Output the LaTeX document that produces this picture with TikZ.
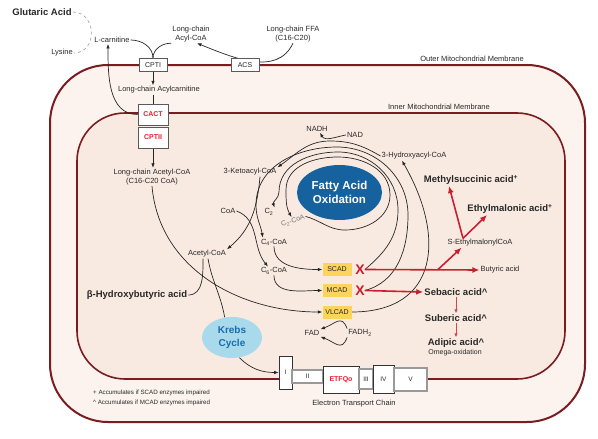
\documentclass[tikz,border=0pt]{standalone}
\usepackage{fontspec}
\setmainfont{Liberation Sans}
\usepackage{xcolor}
\usetikzlibrary{arrows.meta}
\usetikzlibrary{shapes.geometric}

\definecolor{membred}{RGB}{122,28,32}
\definecolor{outerfill}{RGB}{252,243,238}
\definecolor{innerfill}{RGB}{249,234,225}
\definecolor{txt}{RGB}{40,40,40}
\definecolor{rxred}{RGB}{200,32,46}
\definecolor{rxpale}{RGB}{214,70,80}
\definecolor{boxred}{RGB}{232,30,45}
\definecolor{enzyellow}{RGB}{251,212,92}
\definecolor{faoblue}{RGB}{22,98,158}
\definecolor{krebsfill}{RGB}{168,218,236}
\definecolor{krebstext}{RGB}{26,108,170}

\pgfdeclarelayer{bg}
\pgfdeclarelayer{mid}
\pgfsetlayers{bg,mid,main}

\begin{document}
\begin{tikzpicture}[x=1pt,y=1pt,yscale=-1]
\tikzset{>={Latex[width=3.5pt,length=4.5pt]}}
\tikzstyle{lbl}=[text=txt,inner sep=1pt,align=center,font=\fontsize{7.5}{9}\selectfont]
\tikzstyle{big}=[text=txt,inner sep=1pt,font=\fontsize{9.5}{11}\selectfont\bfseries]
\tikzstyle{note}=[text=txt,inner sep=1pt,anchor=west,font=\fontsize{6.2}{7}\selectfont]
\tikzstyle{mbox}=[draw=black!65,fill=white,line width=0.6pt,inner sep=0pt,minimum width=28pt,minimum height=13pt,text=txt,font=\fontsize{7}{8}\selectfont]
\tikzstyle{redbox}=[mbox,minimum width=30pt,minimum height=21pt,text=boxred,font=\fontsize{7}{8}\selectfont\bfseries]
\tikzstyle{enz}=[fill=enzyellow,inner sep=0pt,minimum width=29pt,minimum height=13pt,text=txt,font=\fontsize{7}{8}\selectfont]
\tikzstyle{xmark}=[text=rxred,inner sep=0pt,font=\fontsize{14}{14}\selectfont\bfseries]
\tikzstyle{con}=[draw=black!85,line width=0.7pt]
\tikzstyle{redline}=[draw=rxred,line width=1.6pt,-{Latex[width=6pt,length=7pt]}]
\tikzstyle{redthin}=[draw=rxpale,line width=0.9pt,-{Latex[width=3.5pt,length=4pt]}]
\tikzstyle{etcbox}=[draw=black!80,fill=white,line width=0.6pt,inner sep=0pt,text=txt,font=\fontsize{6.5}{7}\selectfont]
\tikzstyle{etcgray}=[etcbox,draw=black!40,line width=1.1pt]

\useasboundingbox (0,0) rectangle (598,439);

\begin{pgfonlayer}{bg}
\draw[fill=outerfill,draw=membred,line width=2pt,rounded corners=58pt] (50,65) rectangle (585,422);
\draw[fill=innerfill,draw=membred,line width=1.6pt,rounded corners=48pt] (77,113) rectangle (565,379);
\end{pgfonlayer}

\node[big](glut) at (42,12){Glutaric Acid};
\node[lbl](lys) at (62,53){Lysine};
\node[lbl](lcarn) at (112,40){L-carnitine};
\node[lbl](acyl) at (191,34){Long-chain\\Acyl-CoA};
\node[lbl](ffa) at (293,34){Long-chain FFA\\(C16-C20)};
\node[mbox](cpt1) at (153,65){CPTI};
\node[mbox](acs) at (245,65){ACS};
\node[lbl](acylcarn) at (159,90){Long-chain Acylcarnitine};
\node[redbox](cact) at (153,114.5){CACT};
\node[redbox](cpt2) at (153,137.5){CPTII};
\node[lbl](lcacetyl) at (152,177){Long-chain Acetyl-CoA\\(C16-C20 CoA)};
\node[lbl](outerlbl) at (472,59){Outer Mitochondrial Membrane};
\node[lbl](innerlbl) at (439,107){Inner Mitochondrial Membrane};

\node[lbl](nadh) at (317,129){NADH};
\node[lbl](nad) at (355,135){NAD};
\node[lbl](hydroxy) at (414,156){3-Hydroxyacyl-CoA};
\node[lbl](keto) at (250,172){3-Ketoacyl-CoA};
\node[lbl](coa) at (228,211){CoA};
\node[lbl](acetyl) at (207,254){Acetyl-CoA};
\node[lbl](c2) at (269,212){C\textsubscript{2}};
\node[lbl,text=black!55,rotate=20,font=\fontsize{7}{8}\selectfont](c2coa) at (293,221){C\textsubscript{2}-CoA};
\node[lbl](c4) at (274,242){C\textsubscript{4}-CoA};
\node[lbl](c6) at (274,271){C\textsubscript{6}-CoA};
\node[enz](scad) at (337,269.5){SCAD};
\node[enz](mcad) at (337,290.5){MCAD};
\node[enz](vlcad) at (337,312){VLCAD};
\node[xmark](xs) at (360,269.5){X};
\node[xmark](xm) at (360,290.5){X};
\node[ellipse,fill=faoblue,minimum width=85pt,minimum height=55pt,inner sep=0pt,align=center,text=white,font=\fontsize{11.5}{14}\selectfont\bfseries](fao) at (339.5,192.5){Fatty Acid\\Oxidation};
\node[ellipse,fill=krebsfill,minimum width=60pt,minimum height=41pt,inner sep=0pt,align=center,text=krebstext,font=\fontsize{10}{12.5}\selectfont\bfseries](krebs) at (232,337.5){Krebs\\Cycle};
\node[big](bhb) at (137,295){β-Hydroxybutyric acid};
\node[lbl](fad) at (312,333){FAD};
\node[lbl](fadh) at (360,333){FADH\textsubscript{2}};
\node[lbl](seth) at (480,243){S-EthylmalonylCoA};
\node[lbl](butyric) at (500,270){Butyric acid};
\node[big](methyl) at (471,180){Methylsuccinic acid\textsuperscript{+}};
\node[big](ethyl) at (510,209){Ethylmalonic acid\textsuperscript{+}};
\node[big](sebacic) at (456,292){Sebacic acid\textasciicircum};
\node[big](suberic) at (456,318){Suberic acid\textasciicircum};
\node[big](adipic) at (456,343){Adipic acid\textasciicircum};
\node[lbl,font=\fontsize{7}{8}\selectfont](omega) at (455,353){Omega-oxidation};

\node[etcbox,minimum width=13pt,minimum height=33pt](etc1) at (285.5,372.5){I};
\node[etcgray,minimum width=31pt,minimum height=13pt](etc2) at (307.5,376.5){II};
\node[etcbox,minimum width=36pt,minimum height=27pt,text=boxred,font=\fontsize{7}{8}\selectfont\bfseries](etfqo) at (341,379.5){ETFQo};
\node[etcgray,minimum width=14pt,minimum height=20pt](etc3) at (366,379){III};
\node[etcbox,minimum width=21pt,minimum height=28pt](etc4) at (383.5,379){IV};
\node[etcgray,minimum width=33pt,minimum height=23pt](etc5) at (410.5,379.5){V};
\node[lbl](etclbl) at (354,404){Electron Transport Chain};

\node[note](leg1) at (92,393){+ Accumulates if SCAD enzymes impaired};
\node[note](leg2) at (92,403){\textasciicircum\ Accumulates if MCAD enzymes impaired};

\begin{pgfonlayer}{mid}
\draw[gray!70,dashed,line width=0.7pt] (glut.east) to [out=0,in=0,looseness=1.5] (lys.east);
\draw[con] (lcarn.east) to [out=0,in=-90] (cpt1.north);
\draw[con] (acyl.south west) to [out=180,in=-90] (cpt1.north);
\draw[con,->] (ffa.south) to [out=115,in=22] ([xshift=6pt]acyl.south);
\draw[con,->] (cpt1.south) -- (cpt1.south |- acylcarn.north);
\draw[con] (cpt1.south |- acylcarn.south) -- (cact.north);
\draw[con,->] (cact.west) to [out=180,in=90] ([xshift=-4pt]lcarn.south);
\draw[con,->] (cpt2.south) -- (cpt2.south |- lcacetyl.north);

\draw[con,->] (lcacetyl.south) to [out=85,in=180] (vlcad.west);
\draw[con,->] ([xshift=10pt]keto.south) to [out=95,in=-40] (acetyl.north east);
\draw[con,->] (coa.east) to [out=20,in=-130] ([xshift=-6pt]c6.north);
\draw[con,->] (c4.south) to [out=90,in=180] (scad.west);
\draw[con,->] (c6.south) to [out=90,in=180] (mcad.west);
\draw[con] ([xshift=-4pt]acetyl.south) to [out=90,in=0] (bhb.east);
\draw[con] ([xshift=1pt]acetyl.south) to [out=80,in=-100] (krebs.110);
\draw[con,->] (krebs.-70) to [out=45,in=180] (etc1.west);
\draw[con,->] (nad.west) to [out=170,in=60] ([xshift=3pt]nadh.south);
\draw[con,->] (fadh.north west) to [out=-110,in=-20,looseness=1.5] (fad.north east);
\draw[con,->] (fadh.south west) to [out=110,in=20,looseness=1.5] (fad.south east);

\draw[con,->] (vlcad.east) to [out=0,in=60,looseness=1.4] ([xshift=-12pt]hydroxy.south);
\draw[con,->] (hydroxy.west) to [out=-150,in=0] (330,141) to [out=180,in=-35] (keto.north east);
\draw[con,->] (xm.east) to [out=-15,in=90] (408,215) to [out=-90,in=0] (337,147) to [out=180,in=-90] (256,205) to [out=90,in=-100] ([xshift=3pt]c4.north west);
\draw[con,->] (xs.east) to [out=-40,in=90] (398,210) to [out=-90,in=0] (338,152) to [out=180,in=-90] (279,192) to [out=90,in=-110] (c2.north east);
\draw[con,->] (c2coa.east) to [out=15,in=180] (345,230) to [out=0,in=90] (390,195) to [out=-90,in=0] (338,157) to [out=180,in=-90] (286,190) to [out=90,in=-120] (c2coa.north);

\coordinate (fork) at (438,269.5);
\draw[redline] (xs.east) -- (butyric.west);
\draw[redline] (fork) -- ([xshift=15pt]seth.south west);
\draw[redline] ([xshift=-17pt]seth.north) -- ([xshift=-22pt]methyl.south);
\draw[redline] ([xshift=-17pt]seth.north) -- ([xshift=-23pt]ethyl.south);
\draw[redline] (xm.east) -- (sebacic.west);
\draw[redthin] (sebacic) -- (suberic);
\draw[redthin] (suberic) -- (adipic);
\end{pgfonlayer}
\end{tikzpicture}
\end{document}
